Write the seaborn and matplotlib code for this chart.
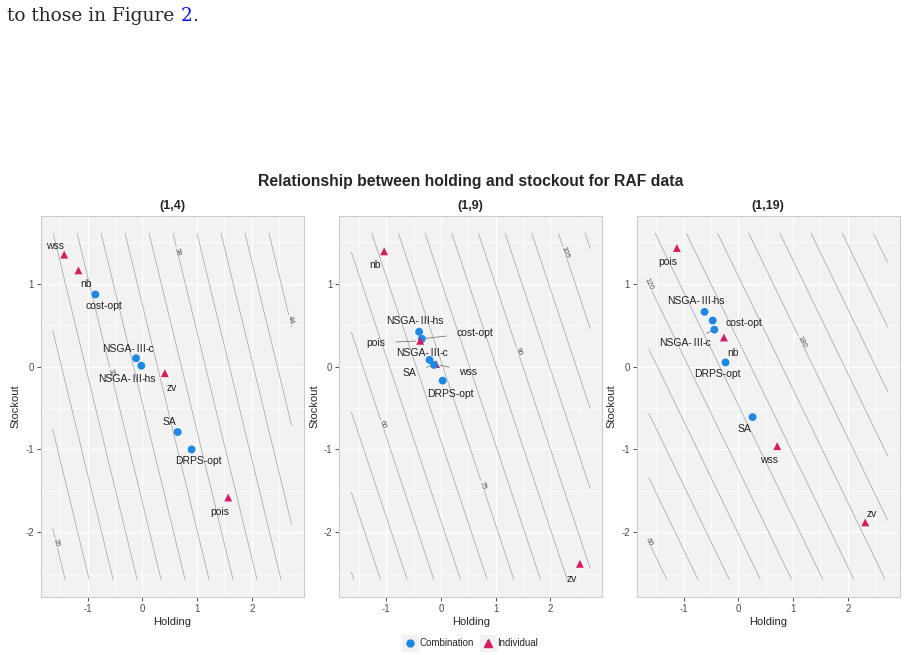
import numpy as np
import pandas as pd
import seaborn as sns
import matplotlib.pyplot as plt
from matplotlib.lines import Line2D
from matplotlib.legend_handler import HandlerTuple
from matplotlib.offsetbox import TextArea, HPacker, AnnotationBbox

# ---- data ----
panels = ['(1,4)', '(1,9)', '(1,19)']
methods = ['wss', 'nb', 'cost-opt', 'NSGA-Ⅲ-c', 'NSGA-Ⅲ-hs', 'zv', 'SA', 'DRPS-opt', 'pois']
kind = ['Individual', 'Individual', 'Combination', 'Combination', 'Combination',
        'Individual', 'Combination', 'Combination', 'Individual']

holding_4 = [-1.43, -1.17, -0.86, -0.115, -0.02, 0.41, 0.645, 0.90, 1.57]
stockout_4 = [1.35, 1.16, 0.87, 0.10, 0.01, -0.08, -0.79, -1.00, -1.58]
holding_9 = [-0.09, -1.04, -0.35, -0.21, -0.40, 2.54, -0.13, 0.03, -0.38]
stockout_9 = [0.03, 1.39, 0.335, 0.08, 0.42, -2.38, 0.02, -0.17, 0.31]
holding_19 = [0.71, -0.265, -0.47, -0.44, -0.62, 2.32, 0.26, -0.235, -1.125]
stockout_19 = [-0.96, 0.35, 0.555, 0.445, 0.66, -1.88, -0.61, 0.05, 1.43]

# cost plane per panel: cost = c0 + ch * holding + cs * stockout
cost_coef = {'(1,4)': (34.06, 3.42, 1.257),
             '(1,9)': (74.65, 10.25, 5.18),
             '(1,19)': (144.0, 26.3, 19.3)}
cost_levels = {'(1,4)': (26, 44, 1.5),
               '(1,9)': (45, 110, 5),
               '(1,19)': (60, 240, 15)}
# labelled contour levels and the stockout height where each label sits
label_levels = {'(1,4)': [26, 32, 38, 44],
                '(1,9)': [60, 75, 90, 105],
                '(1,19)': [60, 120, 180]}
label_heights = {'(1,4)': [-2.13, -0.07, 1.39, 0.565],
                 '(1,9)': [-0.70, -1.43, 0.18, 1.37],
                 '(1,19)': [-2.12, 1.20, 0.30]}

# text label offsets (pixels) relative to each point
offsets = {
    '(1,4)': {'wss': (-9, 9), 'nb': (8, -14), 'cost-opt': (8, -12), 'NSGA-Ⅲ-c': (-8, 9),
              'NSGA-Ⅲ-hs': (-14, -13), 'zv': (7, -15), 'SA': (-8, 10),
              'DRPS-opt': (7, -12), 'pois': (-8, -14)},
    '(1,9)': {'wss': (32, -8), 'nb': (-9, -14), 'cost-opt': (53, 6), 'NSGA-Ⅲ-c': (-7, 7),
              'NSGA-Ⅲ-hs': (-4, 11), 'zv': (-8, -15), 'SA': (-24, -8),
              'DRPS-opt': (8, -13), 'pois': (-44, -2)},
    '(1,19)': {'wss': (-8, -14), 'nb': (9, -15), 'cost-opt': (31, -2), 'NSGA-Ⅲ-c': (-29, -13),
               'NSGA-Ⅲ-hs': (-8, 11), 'zv': (7, 8), 'SA': (-8, -12),
               'DRPS-opt': (-8, -12), 'pois': (-9, -14)},
}

frames = []
for p, h, s in zip(panels, [holding_4, holding_9, holding_19],
                   [stockout_4, stockout_9, stockout_19]):
    frames.append(pd.DataFrame({'panel': p, 'method': methods, 'Type': kind,
                                'Holding': h, 'Stockout': s}))
df = pd.concat(frames, ignore_index=True)

colors = {'Combination': '#1E88E5', 'Individual': '#D81B60'}
markers = {'Combination': 'o', 'Individual': '^'}

sns.set_theme(style='darkgrid')
plt.rcParams['font.family'] = ['Liberation Sans', 'Noto Sans CJK SC', 'DejaVu Sans']
plt.rcParams['axes.unicode_minus'] = False

W, H = 906, 655
fig = plt.figure(figsize=(W / 100, H / 100), dpi=100)
lefts = [40.7, 339.3, 636.7]

gx = np.linspace(-1.64, 2.73, 200)
gy = np.linspace(-2.57, 1.61, 200)
GX, GY = np.meshgrid(gx, gy)

label_props = dict(fontsize=7.5, color='#222222', family='Liberation Sans')
roman_props = dict(fontsize=7.5, color='#222222', family='Noto Sans CJK SC')


def label_box(text):
    # the roman numeral is drawn from the CJK font, like the original
    parts = []
    for i, chunk in enumerate(text.split('Ⅲ')):
        if i > 0:
            parts.append(TextArea('Ⅲ', textprops=roman_props))
        if chunk:
            parts.append(TextArea(chunk, textprops=label_props))
    return HPacker(children=parts, pad=0, sep=0, align='baseline')


for p, lp in zip(panels, lefts):
    ax = fig.add_axes([lp / W, 1 - 597 / H, 263 / W, (597 - 215.7) / H])
    ax.set_facecolor('#F2F2F2')
    for sp in ax.spines.values():
        sp.set_visible(True)
        sp.set_color('#CCCCCC')
        sp.set_linewidth(0.8)

    c0, ch, cs = cost_coef[p]
    Z = c0 + ch * GX + cs * GY
    lo, hi, st = cost_levels[p]
    lv = np.arange(lo, hi + st / 2, st)
    cont = ax.contour(GX, GY, Z, levels=lv, colors='#A0A0A0', linewidths=0.5, zorder=1)
    spots = [((L - c0 - cs * yy) / ch, yy) for L, yy in zip(label_levels[p], label_heights[p])]
    ax.clabel(cont, manual=spots, fmt='%.0f', fontsize=5.5, colors='#555555',
              inline=True, inline_spacing=1)

    sub = df[df['panel'] == p]
    sns.scatterplot(data=sub, x='Holding', y='Stockout', hue='Type', style='Type',
                    palette=colors, markers=markers, s=32, edgecolor='none',
                    legend=False, ax=ax, zorder=3)

    for _, r in sub.iterrows():
        dx, dy = offsets[p][r['method']]
        far = (dx * dx + dy * dy) ** 0.5 > 20
        ab = AnnotationBbox(label_box(r['method']), (r['Holding'], r['Stockout']),
                            xybox=(dx, dy), xycoords='data', boxcoords='offset pixels',
                            frameon=False, pad=0, box_alignment=(0.5, 0.5),
                            arrowprops=dict(arrowstyle='-', color='#666666', lw=0.5,
                                            shrinkA=7, shrinkB=3) if far else None)
        ab.set_zorder(4)
        ax.add_artist(ab)

    ax.set_xlim(-1.86, 2.95)
    ax.set_ylim(-2.78, 1.82)
    ax.set_xticks([-1, 0, 1, 2])
    ax.set_yticks([-2, -1, 0, 1])
    ax.set_xticks([-1.5, -0.5, 0.5, 1.5, 2.5], minor=True)
    ax.set_yticks([-2.5, -1.5, -0.5, 0.5, 1.5], minor=True)
    ax.grid(which='major', color='white', linewidth=0.9)
    ax.grid(which='minor', color='white', linewidth=0.45)
    ax.tick_params(which='major', length=3, width=0.6, color='#333333',
                   labelsize=7, labelcolor='#4D4D4D', pad=2, bottom=True, left=True)
    ax.tick_params(which='minor', length=0)
    ax.set_xlabel('Holding', fontsize=8, labelpad=2)
    ax.set_ylabel('Stockout', fontsize=8, labelpad=3)
    ax.set_title(p, fontsize=9, fontweight='bold', pad=5)

fig.text(471 / W, 1 - 181 / H, 'Relationship between holding and stockout for RAF data',
         ha='center', va='center', fontsize=11.3, fontweight='bold')

key = dict(marker='s', linestyle='none', color='#F2F2F2', markersize=12)
handles = [(Line2D([], [], **key),
            Line2D([], [], marker='o', linestyle='none', color=colors['Combination'], markersize=5)),
           (Line2D([], [], **key),
            Line2D([], [], marker='^', linestyle='none', color=colors['Individual'], markersize=5.5))]
fig.legend(handles, ['Combination', 'Individual'], loc='center', ncol=2,
           bbox_to_anchor=(471 / W, 1 - 643 / H), frameon=False, fontsize=7,
           handler_map={tuple: HandlerTuple(ndivide=1, pad=0)},
           handlelength=1.2, handletextpad=0.4, columnspacing=0.8)

# text fragment from the page above the figure
serif = dict(family='DejaVu Serif', fontsize=13.4, va='baseline')
t1 = fig.text(7 / W, 1 - 21 / H, 'to those in Figure ', **serif)
fig.canvas.draw()
bb = t1.get_window_extent()
t2 = fig.text(bb.x1 / W, 1 - 21 / H, '2', color='#1010EE', **serif)
fig.canvas.draw()
bb2 = t2.get_window_extent()
fig.text(bb2.x1 / W, 1 - 21 / H, '.', **serif)

fig.savefig('out.png', dpi=100)
